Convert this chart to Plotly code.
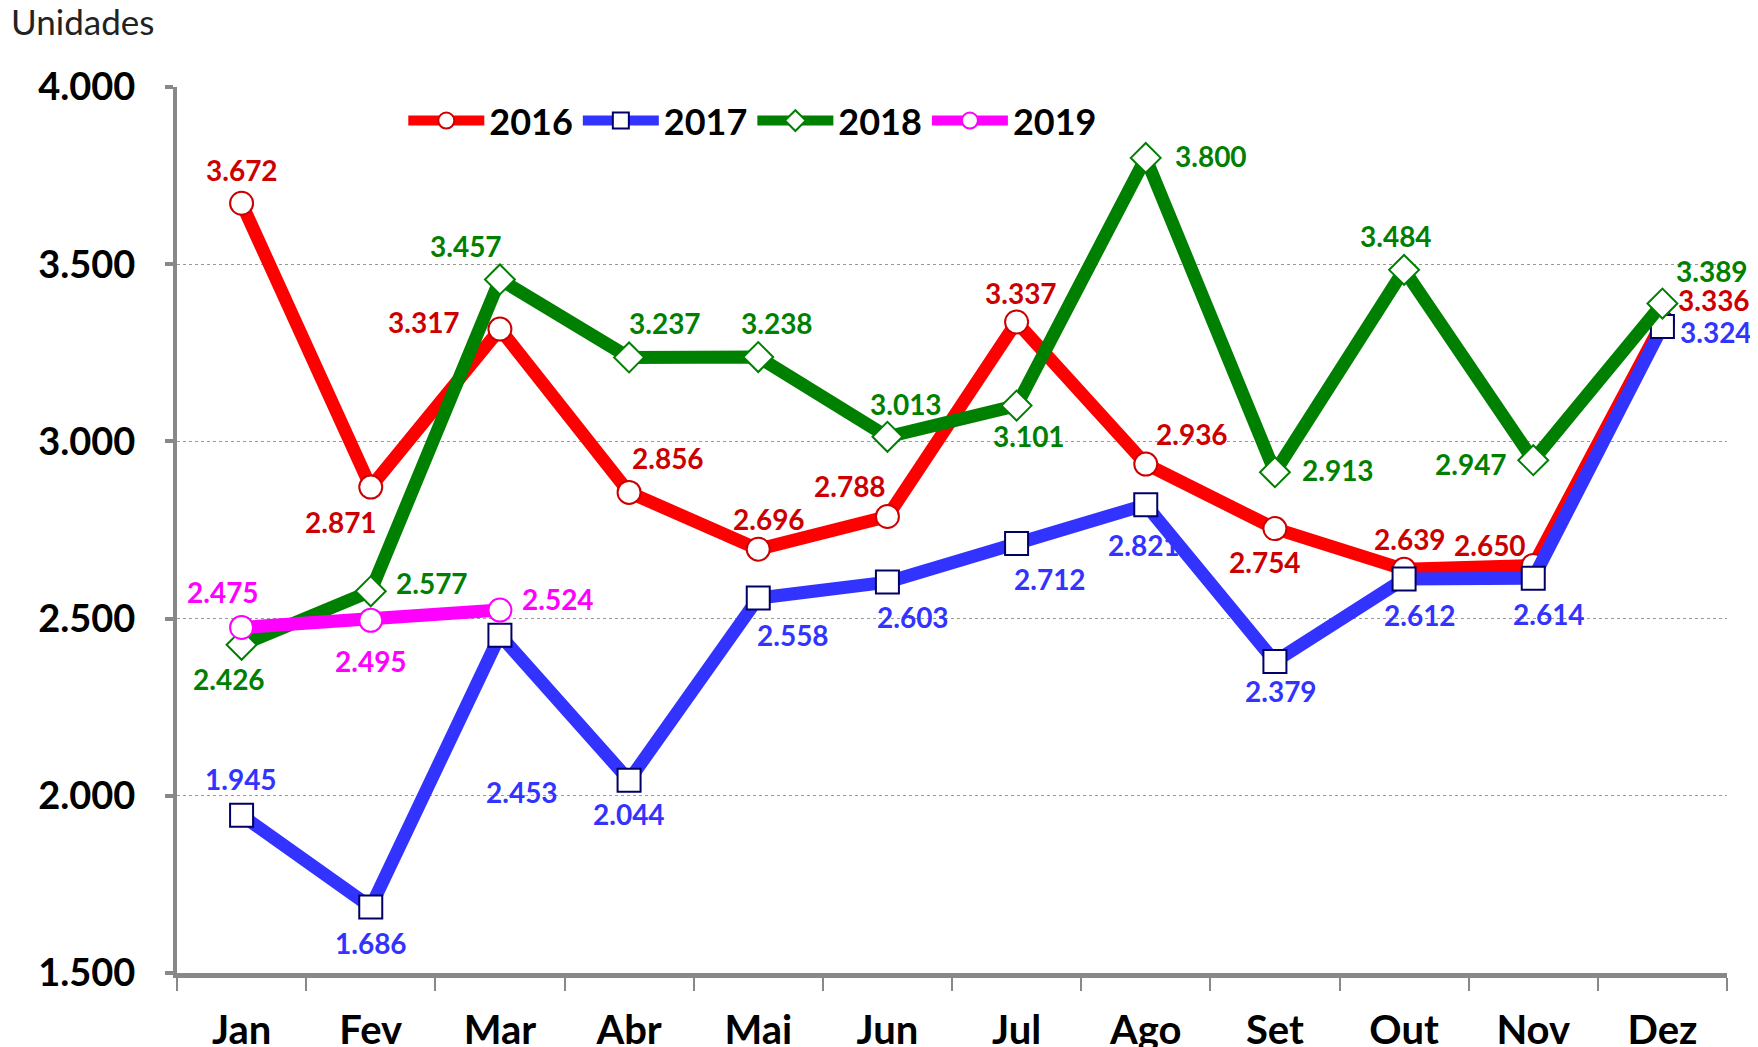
import plotly.graph_objects as go

months = ['Jan', 'Fev', 'Mar', 'Abr', 'Mai', 'Jun', 'Jul', 'Ago', 'Set', 'Out', 'Nov', 'Dez']
y2016 = [3672, 2871, 3317, 2856, 2696, 2788, 3337, 2936, 2754, 2639, 2650, 3336]
y2017 = [1945, 1686, 2453, 2044, 2558, 2603, 2712, 2821, 2379, 2612, 2614, 3324]
y2018 = [2426, 2577, 3457, 3237, 3238, 3013, 3101, 3800, 2913, 3484, 2947, 3389]
y2019 = [2475, 2495, 2524]

# label offsets in px (xshift, yshift) relative to each point
off2016 = [(0, 33), (-30, -35), (-76, 7), (39, 34), (11, 30), (-37, 31),
           (4, 29), (46, 30), (-10, -33), (6, 30), (-43, 20), (52, 22)]
off2017 = [(-1, 36), (0, -36), (22, -157), (0, -34), (35, -37), (26, -35),
           (33, -36), (-2, -40), (6, -30), (16, -36), (16, -36), (54, -5)]
off2018 = [(-13, -34), (61, 8), (-34, 33), (36, 34), (19, 34), (19, 33),
           (12, -30), (65, 2), (63, 2), (-8, 34), (-62, -4), (50, 33)]
off2019 = [(-19, 35), (0, -41), (58, 11)]

FONT = 'Lato'

series = [
    ('2016', y2016, off2016, '#FF0000', '#CC0000', 'circle', '#CC0000'),
    ('2017', y2017, off2017, '#3333FF', '#3333FF', 'square', '#000066'),
    ('2018', y2018, off2018, '#008000', '#008000', 'diamond', '#008000'),
    ('2019', y2019, off2019, '#FF00FF', '#FF00FF', 'circle', '#FF00FF'),
]

fig = go.Figure()
annotations = []

for name, vals, offs, color, lblcolor, symbol, edge in series:
    fig.add_trace(go.Scatter(
        x=months[:len(vals)], y=vals,
        mode='lines+markers',
        name=name,
        line=dict(color=color, width=13),
        marker=dict(symbol=symbol, size=23, color='white',
                    line=dict(color=edge, width=2)),
        hoverinfo='skip'
    ))
    for m, v, (dx, dy) in zip(months, vals, offs):
        annotations.append(dict(
            x=m, y=v, xref='x', yref='y',
            text=f"{v:,}".replace(',', '.'),
            showarrow=False, xshift=dx, yshift=dy,
            font=dict(family=FONT, size=28, color=lblcolor, weight='bold')
        ))

annotations.append(dict(
    xref='paper', yref='paper', x=0, y=1,
    xanchor='left', yanchor='middle', xshift=-168, yshift=66,
    text='Unidades', showarrow=False,
    font=dict(family=FONT, size=35, color='#222222')
))

fig.update_layout(
    width=1758, height=1047,
    margin=dict(l=169, r=39, t=79, b=82),
    paper_bgcolor='white', plot_bgcolor='white',
    separators=',.',
    showlegend=True,
    legend=dict(
        orientation='h', x=0.146, y=0.962, xanchor='left', yanchor='middle',
        font=dict(family=FONT, size=36, color='black', weight='bold'),
        itemwidth=76, bgcolor='rgba(0,0,0,0)'
    ),
    xaxis=dict(
        type='category', range=[-0.5, 11.5], automargin=False,
        showline=True, linecolor='#888888', linewidth=5,
        ticks='outside', tickson='boundaries', ticklen=13, tickwidth=2,
        tickcolor='#888888', showgrid=False, ticklabelstandoff=18,
        tickfont=dict(family=FONT, size=40, color='black', weight='bold')
    ),
    yaxis=dict(
        range=[1500, 4000], dtick=500, tickformat=',d', automargin=False,
        showline=True, linecolor='#888888', linewidth=4,
        ticks='outside', ticklen=8, tickwidth=4, tickcolor='#888888',
        showgrid=True, gridcolor='#999999', gridwidth=1, griddash='dot',
        zeroline=False, ticklabelstandoff=22,
        tickfont=dict(family=FONT, size=38, color='black', weight='bold')
    ),
    annotations=annotations
)

fig.write_html("out.html")
